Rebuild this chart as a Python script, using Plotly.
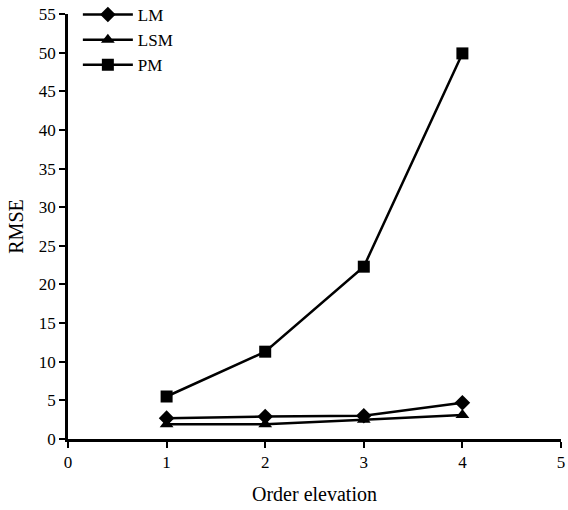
import plotly.graph_objects as go

orders = [1, 2, 3, 4]
lm = [2.7, 2.9, 3.0, 4.7]
lsm = [1.9, 1.9, 2.5, 3.1]
pm = [5.5, 11.3, 22.3, 49.9]
names = ["LM", "LSM", "PM"]
symbols = ["diamond", "triangle-up", "square"]

fig = go.Figure()
for name, vals, sym in zip(names, [lm, lsm, pm], symbols):
    fig.add_trace(go.Scatter(
        x=orders, y=vals, name=name, mode="lines+markers",
        line=dict(color="black", width=2.5),
        marker=dict(symbol=sym, size=12, color="black"),
        cliponaxis=False,
    ))

font = dict(family="Liberation Serif, Times New Roman, serif", size=17, color="black")
fig.update_layout(
    width=568, height=510,
    margin=dict(l=68, r=7, t=14, b=71, autoexpand=False),
    paper_bgcolor="white", plot_bgcolor="white",
    font=font,
    showlegend=True,
    legend=dict(x=0.02, y=1.04, xanchor="left", yanchor="top",
                bgcolor="rgba(0,0,0,0)", font=font, tracegroupgap=0,
                itemwidth=50),
    xaxis=dict(range=[0, 5], tickvals=[0, 1, 2, 3, 4, 5], showgrid=False,
               zeroline=False, showline=True, linecolor="black", linewidth=2.5,
               ticks="outside", ticklen=6, tickwidth=2, tickcolor="black",
               ticklabeloverflow="allow",
               title=dict(text="Order elevation", standoff=16)),
    yaxis=dict(range=[0, 55], tickvals=list(range(0, 56, 5)), showgrid=False,
               zeroline=False, showline=True, linecolor="black", linewidth=2.5,
               ticks="outside", ticklen=6, tickwidth=2, tickcolor="black",
               ticklabeloverflow="allow",
               title=dict(text="RMSE", standoff=10)),
)
fig.write_html("out.html")
